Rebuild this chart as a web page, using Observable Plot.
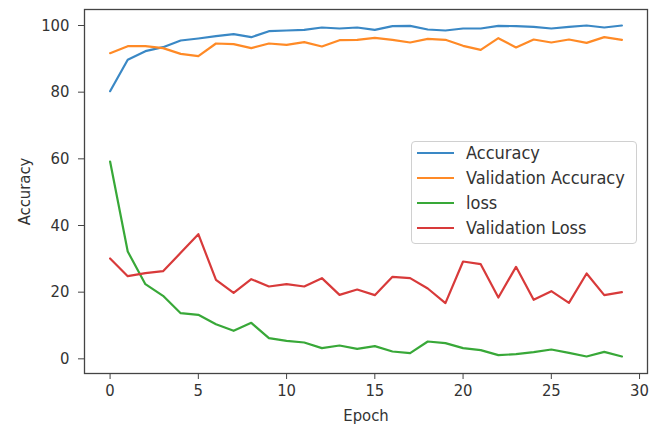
<!DOCTYPE html>
<html><head><meta charset="utf-8">
<script src="https://cdn.jsdelivr.net/npm/d3@7"></script>
<script src="https://cdn.jsdelivr.net/npm/@observablehq/plot@0.6"></script>
<style>
body{margin:0;background:#fff;}
#wrap{position:relative;width:660px;height:428px;font-family:"DejaVu Sans Condensed","DejaVu Sans",sans-serif;color:#333;}
#legend{position:absolute;left:411px;top:141px;width:224px;height:101px;border:1px solid #d0d0d0;border-radius:4px;background:rgba(255,255,255,0.85);box-sizing:content-box;}
.item{position:absolute;left:0;height:25px;display:flex;align-items:center;font-size:18px;white-space:nowrap;color:#333;}
.swatch{display:inline-block;width:37px;height:2px;border-top:0;margin-left:5px;margin-right:12px;}
</style></head><body><div id="wrap"></div>
<script>
const epochs = [0,1,2,3,4,5,6,7,8,9,10,11,12,13,14,15,16,17,18,19,20,21,22,23,24,25,26,27,28,29];
const accuracy = [80.3,89.7,92.3,93.5,95.5,96.1,96.8,97.4,96.5,98.3,98.5,98.7,99.4,99.1,99.4,98.7,99.8,99.9,98.8,98.5,99.1,99.1,99.9,99.8,99.6,99.1,99.6,100,99.4,100];
const valAccuracy = [91.7,93.8,93.8,93.2,91.5,90.8,94.6,94.4,93.2,94.6,94.2,95.0,93.7,95.6,95.7,96.3,95.7,94.9,96.0,95.7,93.9,92.7,96.2,93.4,95.8,94.9,95.8,94.8,96.5,95.7];
const loss = [59.2,32.2,22.4,18.9,13.7,13.2,10.4,8.4,10.8,6.2,5.4,4.9,3.2,4.0,3.0,3.8,2.2,1.7,5.2,4.7,3.2,2.6,1.1,1.4,2.0,2.8,1.8,0.7,2.1,0.7];
const valLoss = [30.1,24.8,25.7,26.3,31.8,37.4,23.7,19.8,23.9,21.7,22.4,21.7,24.2,19.2,20.8,19.1,24.6,24.2,21.1,16.7,29.2,28.4,18.4,27.6,17.7,20.3,16.8,25.6,19.1,20.0];
const seriesNames = ["Accuracy","Validation Accuracy","loss","Validation Loss"];
const seriesColors = ["#3a88c5","#ff8a26","#38a838","#d83a3a"];
const xTicks = [0,5,10,15,20,25,30];
const yTicks = [0,20,40,60,80,100];

const seriesValues = [accuracy, valAccuracy, loss, valLoss];
const rows = [];
seriesNames.forEach((name, i) => {
  epochs.forEach((e, j) => rows.push({epoch: e, value: seriesValues[i][j], series: name}));
});

const chart = Plot.plot({
  width: 660,
  height: 428,
  marginLeft: 84,
  marginRight: 13,
  marginTop: 9,
  marginBottom: 55,
  style: {fontFamily: '"DejaVu Sans Condensed","DejaVu Sans",sans-serif', fontSize: "16.5px", color: "#333", background: "#fff"},
  x: {domain: [-1.45, 30.45]},
  y: {domain: [-4.4, 104.8]},
  color: {domain: seriesNames, range: seriesColors},
  marks: [
    Plot.line(rows, {x: "epoch", y: "value", z: "series", stroke: "series", strokeWidth: 2.2}),
    Plot.frame({stroke: "#444", strokeWidth: 1.3}),
    Plot.axisX({ticks: xTicks, tickSize: 6, tickPadding: 5, stroke: "#444", label: "Epoch", labelAnchor: "center", labelArrow: "none", labelOffset: 47}),
    Plot.axisY({ticks: yTicks, tickSize: 6, tickPadding: 9, stroke: "#444", label: "Accuracy", labelAnchor: "center", labelArrow: "none", labelOffset: 66})
  ]
});
const wrap = document.getElementById("wrap");
wrap.appendChild(chart);

const legend = document.createElement("div");
legend.id = "legend";
seriesNames.forEach((name, i) => {
  const it = document.createElement("div");
  it.className = "item";
  it.style.top = (i * 25 - 2) + "px";
  const sw = document.createElement("span");
  sw.className = "swatch";
  sw.style.background = seriesColors[i];
  const tx = document.createElement("span");
  tx.textContent = name;
  it.appendChild(sw); it.appendChild(tx);
  legend.appendChild(it);
});
wrap.appendChild(legend);
</script></body></html>
